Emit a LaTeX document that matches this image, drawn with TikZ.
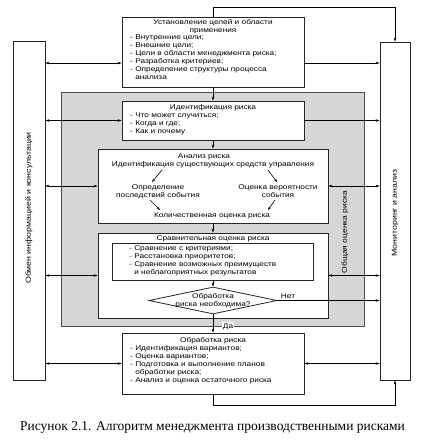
\documentclass[tikz,border=0pt]{standalone}
\usepackage{fontspec}
\setmainfont{Liberation Serif}
\newfontfamily\dsans[FakeStretch=1.2]{Liberation Sans}
\usetikzlibrary{arrows.meta,shapes.geometric,calc}
\begin{document}
\begin{tikzpicture}[x=1pt,y=-1pt,
  box/.style={draw=black!85,line width=0.9pt,fill=white,inner sep=0pt},
  txt/.style={font=\dsans\fontsize{6.9}{8}\selectfont,inner sep=0pt,align=left},
  ctxt/.style={txt,align=center},
  vtxt/.style={font=\dsans\fontsize{7.3}{9}\selectfont,inner sep=0pt,rotate=90,align=center},
  conn/.style={line width=0.5pt,-{Stealth[length=4pt,width=2.6pt]}},
  dconn/.style={line width=0.5pt,{Stealth[length=4pt,width=2.6pt]}-{Stealth[length=4pt,width=2.6pt]}},
  sarr/.style={line width=0.6pt,-{Stealth[length=3.5pt,width=2.6pt]}},
]
\useasboundingbox (0,0) rectangle (421,448);
% gray region
\node[draw=black!70,line width=0.9pt,fill=black!16,minimum width=303pt,minimum height=234pt,inner sep=0pt] (gray) at (212.5,209) {};
\node[vtxt,font=\dsans\fontsize{7.1}{9}\selectfont] (grayt) at (345,232) {Общая оценка риска};

% side boxes
\node[box,minimum width=32pt,minimum height=339pt] (lbox) at (29,210.5) {};
\node[vtxt] (lboxt) at (29,208) {Обмен информацией и консультации};
\node[box,minimum width=30pt,minimum height=338pt] (rbox) at (395,211) {};
\node[vtxt] (rboxt) at (395,213) {Мониторинг и анализ};

% box 1
\node[box,minimum width=182pt,minimum height=70pt] (box1) at (213,52) {};
\node[ctxt,anchor=north] (b1t) at (213,19) {Установление целей и области\\применения};
\node[txt,anchor=north west] (b1l) at (130,35) {- Внутренние цели;\\- Внешние цели;\\- Цели в области менеджмента риска;\\- Разработка критериев;\\- Определение структуры процесса\\\phantom{- }анализа};

% box 2
\node[box,minimum width=182pt,minimum height=39pt] (box2) at (213,120.5) {};
\node[ctxt,anchor=north] (b2t) at (213,104) {Идентификация риска};
\node[txt,anchor=north west] (b2l) at (130,112.5) {- Что может случиться;\\- Когда и где;\\- Как и почему};

% analysis
\node[box,minimum width=230pt,minimum height=74pt] (ana) at (213,186) {};
\node[ctxt] (anat) at (204,157) {Анализ риска};
\node[ctxt] (idc) at (213,164.5) {Идентификация существующих средств управления};
\node[ctxt] (opr) at (158,191.5) {Определение\\последствий события};
\node[ctxt] (ocv) at (278,191.5) {Оценка вероятности\\события};
\node[ctxt] (kol) at (212,216) {Количественная оценка риска};
\draw[sarr] ([xshift=-51pt,yshift=-5.5pt]idc.center) -- ([xshift=-6pt,yshift=9.5pt]opr.center);
\draw[sarr] ([xshift=55pt,yshift=-5.5pt]idc.center) -- ([xshift=-1pt,yshift=9.5pt]ocv.center);
\draw[sarr] ([xshift=-8pt,yshift=-8.5pt]opr.center) -- ([xshift=-52pt,yshift=6pt]kol.center);
\draw[sarr] ([xshift=-3pt,yshift=-8.5pt]ocv.center) -- ([xshift=56pt,yshift=6pt]kol.center);

% comparison
\node[box,minimum width=230pt,minimum height=85pt] (cmp) at (213,275.5) {};
\node[ctxt] (cmpt) at (213,238.5) {Сравнительная оценка риска};
\node[box,line width=0.8pt,minimum width=201pt,minimum height=37pt] (inner) at (213,261.5) {};
\node[txt,anchor=north west] (innl) at (129,245) {- Сравнение с критериями;\\- Расстановка приоритетов;\\- Сравнение возможных преимуществ\\\phantom{- }и неблагоприятных результатов};
\node[diamond,draw=black!85,line width=0.8pt,fill=white,minimum width=128pt,minimum height=27pt,inner sep=0pt] (dec) at (213,300.5) {};
\node[ctxt] (dect) at (213,300.5) {Обработка\\риска необходима?};

% treatment
\node[box,minimum width=182pt,minimum height=61pt] (proc) at (213,363.5) {};
\node[ctxt] (proct) at (213,340.5) {Обработка риска};
\node[txt,anchor=north west] (procl) at (130,345) {- Идентификация вариантов;\\- Оценка вариантов;\\- Подготовка и выполнение планов\\\phantom{- }обработки риска;\\- Анализ и оценка остаточного риска};

% vertical flow
\draw[conn] (box1.south) -- (box2.north);
\draw[conn] (box2.south) -- (ana.north);
\draw[conn] (ana.south) -- (cmp.north);
\draw[conn] (inner.south) -- (dec.north);
\draw[conn] (dec.south) -- (proc.north);
\node[ctxt,fill=white,inner sep=1pt] (da) at (228,326.5) {Да};

% top and bottom loops
\draw[conn] (box1.north) -- ++(0,-9) -| (rbox.north);
\draw[conn] (proc.south) -- ++(0,11) -| (rbox.south);

% left connectors
\coordinate (b1w) at ([yshift=-11pt]box1.west);
\coordinate (b1e) at ([yshift=-11pt]box1.east);
\draw[dconn] (lbox.east |- b1w) -- (b1w);
\draw[dconn] (lbox.east |- box2.west) -- (box2.west);
\draw[dconn] (lbox.east |- ana.west) -- (ana.west);
\draw[dconn] (lbox.east |- cmp.west) -- (cmp.west);
\draw[dconn] (lbox.east |- proc.west) -- (proc.west);

% right connectors
\draw[conn] (b1e) -- (rbox.west |- b1e);
\draw[conn] (box2.east) -- (rbox.west |- box2.east);
\draw[dconn] (ana.east) -- (rbox.west |- ana.east);
\draw[dconn] (cmp.east) -- (rbox.west |- cmp.east);
\draw[conn] (dec.east) -- (rbox.west |- dec.east);
\node[ctxt,anchor=south] (net) at (288,298.5) {Нет};
\draw[dconn] (proc.east) -- (rbox.west |- proc.east);

% caption
\node[font=\fontsize{13.5}{15}\selectfont,inner sep=0pt] (cap) at (212.5,427) {Рисунок 2.1. Алгоритм менеджмента производственными рисками};
\end{tikzpicture}
\end{document}
